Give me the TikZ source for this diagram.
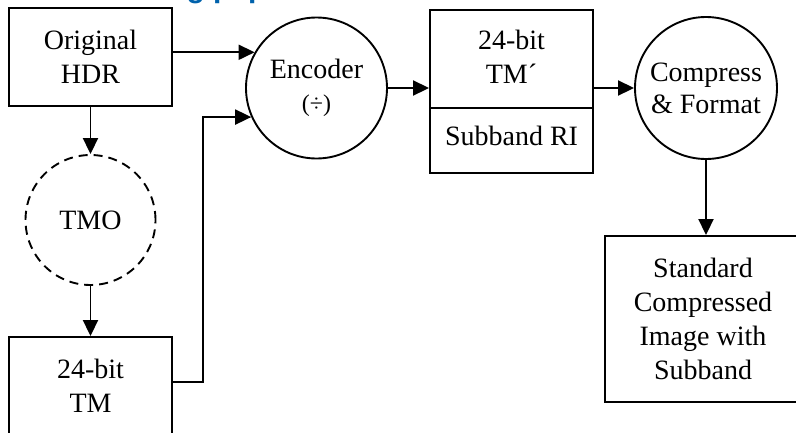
\documentclass[tikz,border=0pt]{standalone}
\usepackage{fontspec}
\setmainfont{Liberation Serif}
\newfontfamily\titlefont{Liberation Sans}
\usetikzlibrary{arrows.meta}
\definecolor{titleblue}{RGB}{0,98,172}
\begin{document}
\begin{tikzpicture}[x=1pt,y=-1pt,
  every node/.style={font=\fontsize{28}{34}\selectfont, align=center, inner sep=0pt},
  box/.style={draw, line width=1.9pt, rectangle},
  proc/.style={draw, line width=1.9pt, circle},
  flow/.style={line width=1.9pt, -{Triangle[length=16pt,width=15pt]}}]
\useasboundingbox (0,0) rectangle (796,432);
\clip (0,0) rectangle (796,432);
% cut-off title
\node[font=\titlefont\bfseries\fontsize{30}{36}\selectfont, text=titleblue, anchor=base west] (title) at (168,-2.5) {ng pap};
% nodes
\node[box, minimum width=163pt, minimum height=98pt] (hdr) at (90.5,57) {Original\\HDR};
\node[proc, minimum size=141pt] (enc) at (316.5,88) {Encoder\\[-1pt]{\fontsize{24}{28}\selectfont(÷)}};
\node[proc, dash pattern=on 9pt off 6pt, minimum size=130pt] (tmo) at (90.5,220) {TMO};
\node[box, minimum width=163pt, minimum height=98pt] (tm) at (90.5,386) {24-bit\\TM};
\node[box, minimum width=163pt, minimum height=163pt] (sb) at (511.5,91.5) {};
\coordinate (divy) at (0,108);
\draw[line width=1.9pt] (sb.west |- divy) -- (sb.east |- divy);
\node (sbtop) at (511.5,57) {24-bit\\TM´};
\node (sbbot) at (511.5,136) {Subband RI};
\node[proc, minimum size=142pt] (cf) at (706,88) {Compress\\[-2pt]\& Format};
\node[box, minimum width=196pt, minimum height=166pt] (std) at (703,319) {Standard\\Compressed\\Image with\\Subband};
% connectors
\draw[flow] (hdr.east |- enc.150) -- (enc.150);
\draw[flow] ([yshift=4pt]tm.east) -- ++(30,0) |- (enc.204);
\draw[flow] (hdr.south) -- (tmo.north);
\draw[flow] (tmo.south) -- (tm.north);
\draw[flow] (enc.east) -- (sb.west |- enc.east);
\draw[flow] (sb.east |- cf.west) -- (cf.west);
\draw[flow] (cf.south) -- (cf.south |- std.north);
\end{tikzpicture}
\end{document}
